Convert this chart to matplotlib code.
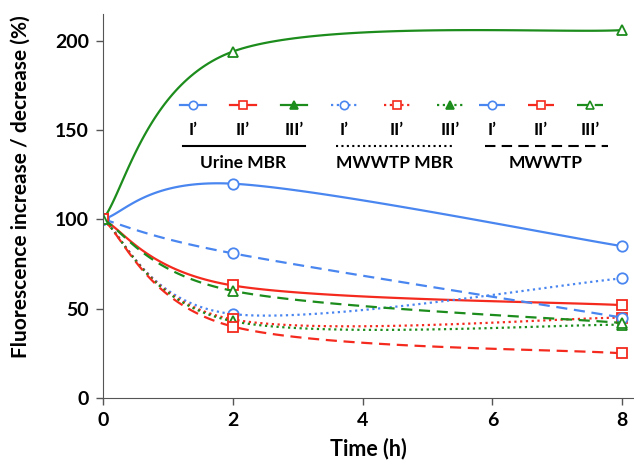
import numpy as np
import matplotlib.pyplot as plt
from matplotlib.lines import Line2D

plt.rcParams['font.family'] = ['Lato', 'DejaVu Sans']
plt.rcParams['font.weight'] = 'bold'

# thời gian lấy mẫu (h)
time_h = [0, 2, 8]

# Urine MBR (nét liền)
urine_I = [100, 120, 85]
urine_II = [100, 63, 52]
urine_III = [100, 194, 206]

# MWWTP MBR (chấm)
mbr_I = [100, 47, 67]
mbr_II = [100, 44, 45]
mbr_III = [100, 43, 41]

# MWWTP (gạch)
mwwtp_I = [100, 81, 45]
mwwtp_II = [100, 40, 25]
mwwtp_III = [100, 60, 42]

sample_labels = ["I\u2019", "II\u2019", "III\u2019"]
group_names = ["Urine MBR", "MWWTP MBR", "MWWTP"]

BLUE = '#4a86f0'
RED = '#f52a1e'
GREEN = '#1c8c1c'
colors = [BLUE, RED, GREEN]
markers = ['o', 's', '^']
dotted = (0, (1, 1.6))
dashed = (0, (5, 3))
styles = ['-', dotted, dashed]


# đường cong trơn kiểu Excel (Bezier qua các điểm)
def smooth(x, y, n=60):
    x = np.asarray(x, float)
    y = np.asarray(y, float)
    px = np.concatenate([[x[0]], x, [x[-1]]])
    py = np.concatenate([[y[0]], y, [y[-1]]])
    xs, ys = [], []
    t = np.linspace(0, 1, n)
    for i in range(1, len(px) - 2):
        p0 = np.array([px[i], py[i]])
        p3 = np.array([px[i + 1], py[i + 1]])
        p1 = p0 + (np.array([px[i + 1], py[i + 1]]) - np.array([px[i - 1], py[i - 1]])) / 6
        p2 = p3 - (np.array([px[i + 2], py[i + 2]]) - np.array([px[i], py[i]])) / 6
        b = ((1 - t) ** 3)[:, None] * p0 + (3 * (1 - t) ** 2 * t)[:, None] * p1 \
            + (3 * (1 - t) * t ** 2)[:, None] * p2 + (t ** 3)[:, None] * p3
        xs.extend(b[:, 0])
        ys.extend(b[:, 1])
    return np.array(xs), np.array(ys)


fig = plt.figure(figsize=(6.34, 4.68), dpi=100)
ax = fig.add_axes([0.1625, 0.1496, 0.8375, 0.8204])

groups = [[urine_I, urine_II, urine_III],
          [mbr_I, mbr_II, mbr_III],
          [mwwtp_I, mwwtp_II, mwwtp_III]]

for g, series in enumerate(groups):
    for k, vals in enumerate(series):
        sx, sy = smooth(time_h, vals)
        ax.plot(sx, sy, color=colors[k], linestyle=styles[g], lw=1.6)
        ax.plot(time_h, vals, linestyle='none', marker=markers[k], ms=7.5,
                mfc='white', mec=colors[k], mew=1.3)

ax.set_xlim(0, 8.18)
ax.set_ylim(0, 215)
ax.set_xticks([0, 2, 4, 6, 8])
ax.set_yticks([0, 50, 100, 150, 200])
ax.tick_params(direction='out', length=5, width=1, colors='#555555',
               labelcolor='black', labelsize=14, pad=5)
for lab in ax.get_xticklabels() + ax.get_yticklabels():
    lab.set_fontweight('bold')
ax.spines['top'].set_visible(False)
ax.spines['right'].set_visible(False)
ax.spines['left'].set_color('#555555')
ax.spines['bottom'].set_color('#555555')
ax.set_xlabel("Time (h)", fontsize=15.5, fontweight='bold')
ax.set_ylabel("Fluorescence increase / decrease (%)", fontsize=15,
              fontweight='bold')
ax.xaxis.set_label_coords(0.5 * (634 + 103) / 531 - 103 / 531, -0.104)
ax.yaxis.set_label_coords(-0.1356, 0.55)

# chú thích tự vẽ (tọa độ pixel của hình)
W, H = 634, 468


def fx(px):
    return px / W


def fy(py):
    return 1 - py / H


sample_x = [[193, 243, 294], [344, 397, 450], [492, 541, 590]]
group_line = [(183, 305), (336, 455), (485, 608)]
group_center = [243, 395, 546]
for g in range(3):
    for k in range(3):
        cx = sample_x[g][k]
        mfc = colors[k] if (g < 2 and k == 2) else 'white'
        fig.add_artist(Line2D([fx(cx - 13), fx(cx + 13)], [fy(105), fy(105)],
                              color=colors[k], linestyle=styles[g], lw=1.6))
        fig.add_artist(Line2D([fx(cx)], [fy(105)], marker=markers[k], ms=6,
                              mfc=mfc, mec=colors[k], mew=1.2))
        fig.text(fx(cx), fy(130), sample_labels[k], ha='center', va='center',
                 fontsize=12.5, fontweight='bold')
    x0, x1 = group_line[g]
    fig.add_artist(Line2D([fx(x0), fx(x1)], [fy(146), fy(146)], color='black',
                          linestyle=styles[g], lw=1.5))
    fig.text(fx(group_center[g]), fy(163), group_names[g], ha='center',
             va='center', fontsize=12.5, fontweight='bold')

fig.savefig('out.png', dpi=100)
